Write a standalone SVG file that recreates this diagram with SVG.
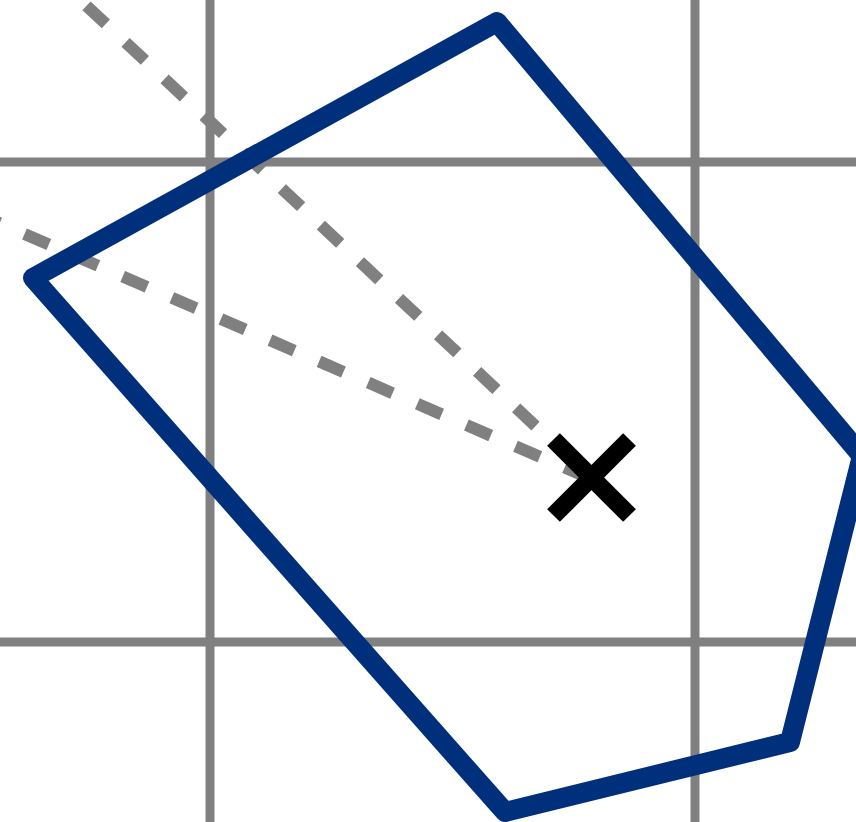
<svg xmlns="http://www.w3.org/2000/svg" width="856" height="822" viewBox="0 0 856 822">
<style>
.grid{stroke:#808080;stroke-width:9;fill:none}
.dash{stroke:#808080;stroke-width:12;stroke-dasharray:26.5 27;fill:none}
.poly{stroke:#002f7c;stroke-width:20;fill:none;stroke-linejoin:round}
.cross{stroke:#000;stroke-width:18;fill:none}
</style>
<rect width="856" height="822" fill="#fff"/>
<g id="grid">
<line class="grid" x1="210" y1="0" x2="210" y2="822"/>
<line class="grid" x1="695" y1="0" x2="695" y2="822"/>
<line class="grid" x1="0" y1="162" x2="856" y2="162"/>
<line class="grid" x1="0" y1="642" x2="856" y2="642"/>
</g>
<g id="connectors">
<line class="dash" x1="591" y1="478" x2="76" y2="-4" stroke-dashoffset="31"/>
<line class="dash" x1="591" y1="479" x2="-10" y2="219" stroke-dashoffset="51.25"/>
</g>
<g id="polygon">
<polygon class="poly" points="497,22 862,456 790,742 505,812 33,278"/>
</g>
<g id="marker">
<line class="cross" x1="553.5" y1="439.5" x2="629.5" y2="515.5"/>
<line class="cross" x1="629.5" y1="439.5" x2="553.5" y2="515.5"/>
</g>
</svg>
